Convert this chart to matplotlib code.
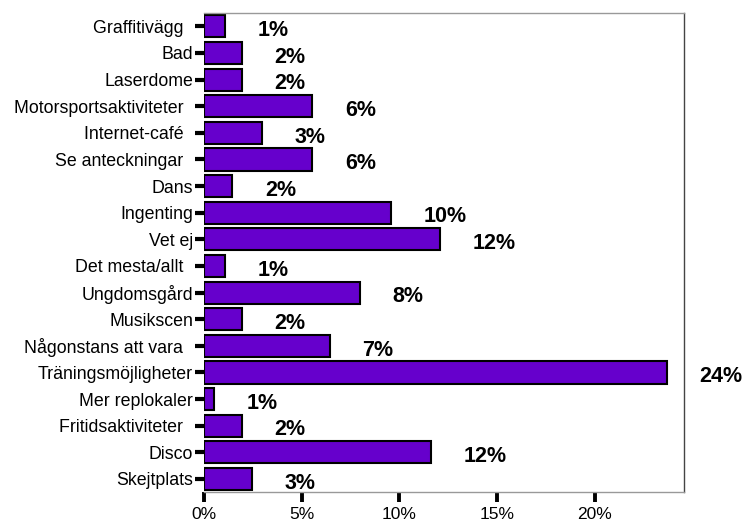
import matplotlib
matplotlib.use("Agg")
import matplotlib.pyplot as plt

categories = ["Graffitivägg  ", "Bad", "Laserdome", "Motorsportsaktiviteter  ", "Internet-café  ",
              "Se anteckningar  ", "Dans", "Ingenting", "Vet ej", "Det mesta/allt  ",
              "Ungdomsgård", "Musikscen", "Någonstans att vara  ", "Träningsmöjligheter",
              "Mer replokaler", "Fritidsaktiviteter  ", "Disco", "Skejtplats"]
values = [1.05, 1.95, 1.95, 5.55, 2.98, 5.55, 1.45, 9.56, 12.1, 1.05,
          8.0, 1.95, 6.45, 23.7, 0.53, 1.95, 11.6, 2.47]
value_labels = ["1%", "2%", "2%", "6%", "3%", "6%", "2%", "10%", "12%", "1%",
                "8%", "2%", "7%", "24%", "1%", "2%", "12%", "3%"]
xticks = [0, 5, 10, 15, 20]
xticklabels = ["0%", "5%", "10%", "15%", "20%"]

plt.rcParams['font.family'] = ['Liberation Sans', 'DejaVu Sans']

fig = plt.figure(figsize=(7.44, 5.25), dpi=100)
ax = fig.add_axes([0.2742, 0.0623, 0.9198 - 0.2742, 0.9752 - 0.0623])

pos = list(range(len(categories)))
ax.barh(pos, values, height=0.83, color="#6600CC", edgecolor="black", linewidth=1.5)

for p, v, lab in zip(pos, values, value_labels):
    ax.annotate(lab, xy=(v, p), xytext=(23.5, -3), textcoords="offset points",
                ha="left", va="center", fontsize=15.5, fontweight="bold", color="black",
                annotation_clip=False)

ax.set_ylim(len(categories) - 0.5, -0.5)
ax.set_xlim(0, 24.6)
ax.set_yticks(pos)
ax.set_yticklabels(categories, fontsize=12.8)
ax.set_xticks(xticks)
ax.set_xticklabels(xticklabels, fontsize=12.5)

ax.tick_params(axis="y", length=6.5, width=3, color="black", pad=1.5)
ax.tick_params(axis="x", length=7.5, width=2.8, color="black", pad=3)

ax.spines["left"].set_visible(False)
ax.spines["top"].set_color("#999999")
ax.spines["bottom"].set_color("#999999")
ax.spines["right"].set_color("#444444")
for s in ["top", "bottom", "right"]:
    ax.spines[s].set_linewidth(1.0)

fig.savefig("out.png", dpi=100)
